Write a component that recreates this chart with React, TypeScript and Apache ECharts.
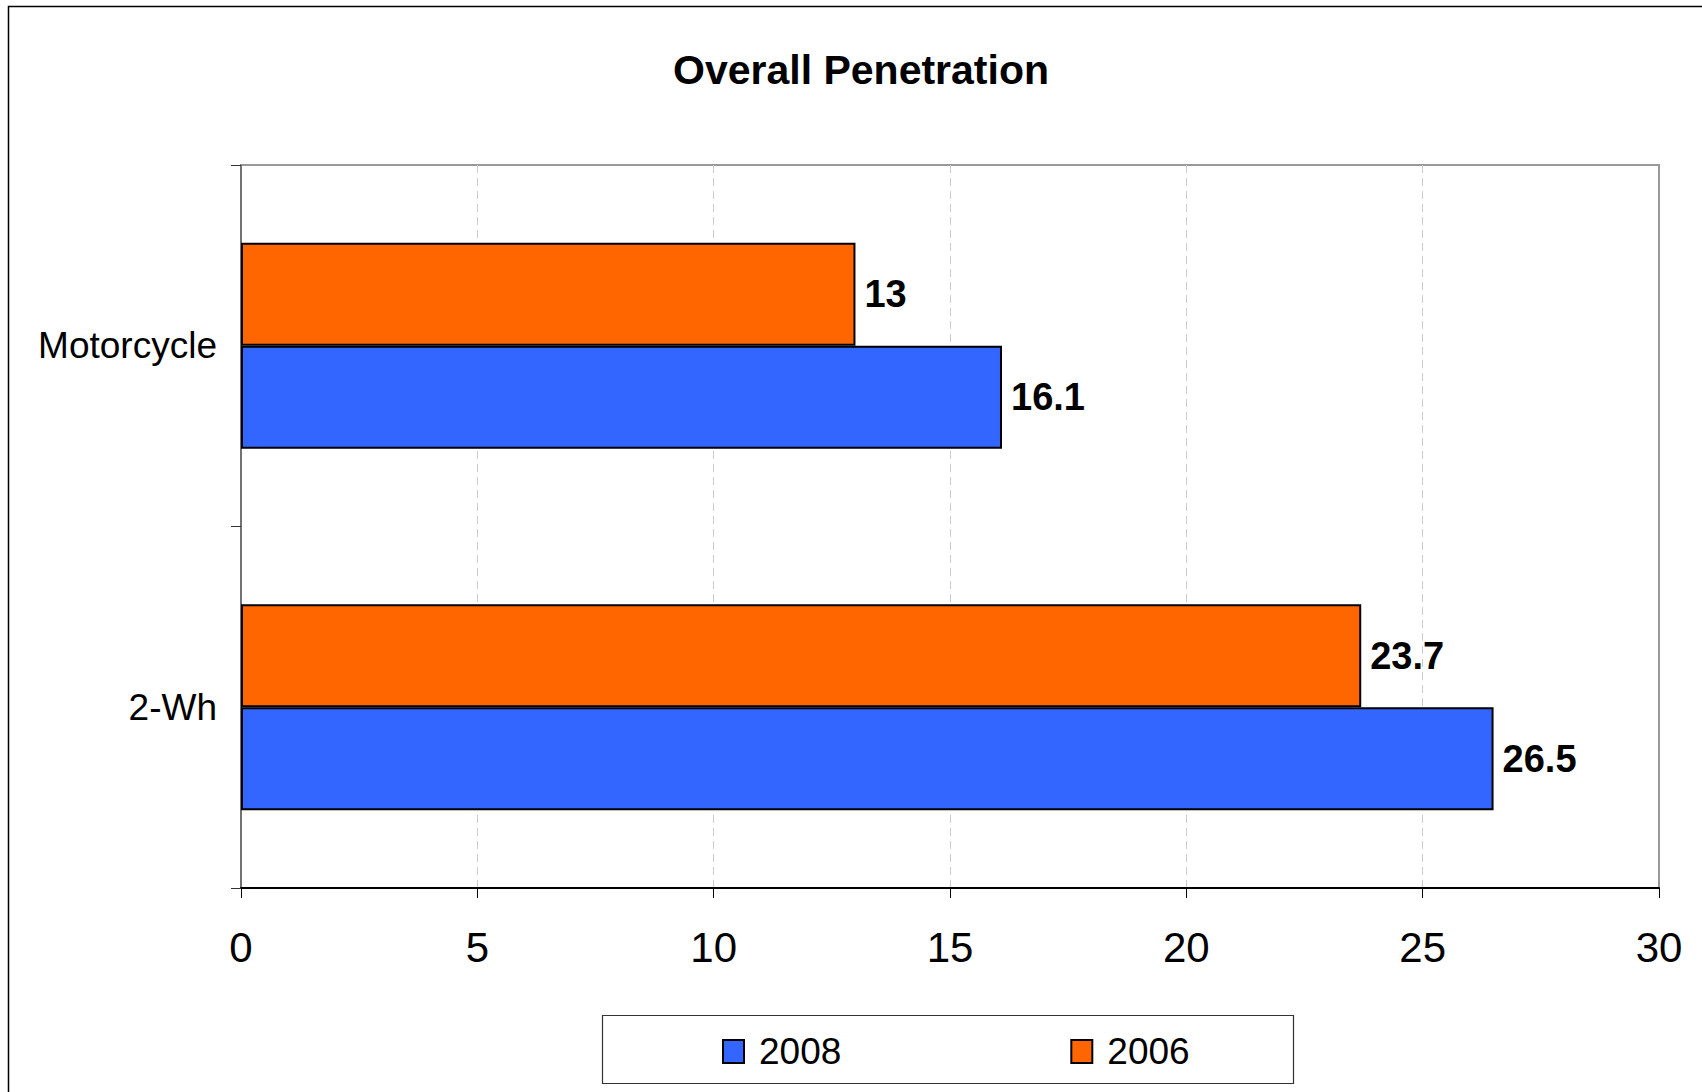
import React, { useEffect, useRef } from "react";
import * as echarts from "echarts";

const categories = ["2-Wh", "Motorcycle"];
const values2008 = [26.5, 16.1];
const values2006 = [23.7, 13];
const seriesNames = ["2008", "2006"];
const xMin = 0;
const xMax = 30;
const xStep = 5;
const titleText = "Overall Penetration";

export default function App() {
  const ref = useRef<HTMLDivElement>(null);
  useEffect(() => {
    if (!ref.current) return;
    const chart = echarts.init(ref.current, null, { renderer: "svg" });
    const barBorder = { borderColor: "#000", borderWidth: 2 };
    const labelStyle = {
      show: true,
      position: "right",
      distance: 9,
      color: "#000",
      fontFamily: "'Liberation Sans', Arial, sans-serif",
      fontWeight: "bold",
      fontSize: 38,
    };
    chart.setOption({
      animation: false,
      backgroundColor: "#fff",
      title: {
        text: titleText,
        left: 856,
        top: 44,
        textAlign: "center",
        textStyle: {
          fontFamily: "'Liberation Sans', Arial, sans-serif",
          fontWeight: "bold",
          fontSize: 41,
          color: "#000",
        },
      },
      graphic: [
        {
          type: "rect",
          shape: { x: 8.5, y: 6.5, width: 1800, height: 1200 },
          style: { fill: "none", stroke: "#000", lineWidth: 1.5 },
          silent: true,
          z: -10,
        },
        {
          type: "rect",
          shape: { x: 602.5, y: 1015.5, width: 691, height: 68 },
          style: { fill: "#fff", stroke: "#333", lineWidth: 1.2 },
          silent: true,
          z: -5,
        },
      ],
      legend: {
        data: seriesNames,
        left: 717,
        top: 1028,
        icon: "rect",
        itemWidth: 21,
        itemHeight: 23,
        itemGap: 229,
        textStyle: {
          fontFamily: "'Liberation Sans', Arial, sans-serif",
          fontSize: 37,
          color: "#000",
          padding: [0, 0, 0, 10],
        },
      },
      grid: {
        left: 241,
        right: 43,
        top: 165,
        bottom: 204,
        show: true,
        borderColor: "#999",
        borderWidth: 2,
        backgroundColor: "#fff",
      },
      xAxis: {
        type: "value",
        min: xMin,
        max: xMax,
        interval: xStep,
        axisLine: { show: true, lineStyle: { color: "#000", width: 2 } },
        axisTick: { show: true, length: 10, lineStyle: { color: "#000", width: 1 } },
        axisLabel: {
          margin: 38,
          fontFamily: "'Liberation Sans', Arial, sans-serif",
          fontSize: 42,
          lineHeight: 42,
          color: "#000",
        },
        splitLine: {
          show: true,
          showMinLine: false,
          showMaxLine: false,
          lineStyle: { color: "#ccc", width: 1, type: [8, 5] },
        },
      },
      yAxis: {
        type: "category",
        data: categories,
        axisLine: { show: true, lineStyle: { color: "#666", width: 1.5 } },
        axisTick: { show: true, length: 10, lineStyle: { color: "#333", width: 1 } },
        axisLabel: {
          margin: 24,
          fontFamily: "'Liberation Sans', Arial, sans-serif",
          fontSize: 37,
          color: "#000",
        },
        splitLine: { show: false },
      },
      series: [
        {
          name: seriesNames[1],
          type: "bar",
          data: values2006,
          barWidth: 103,
          barGap: "0%",
          itemStyle: { color: "#FF6600", ...barBorder },
          label: labelStyle,
        },
        {
          name: seriesNames[0],
          type: "bar",
          data: values2008,
          barWidth: 103,
          barGap: "0%",
          itemStyle: { color: "#3366FF", ...barBorder },
          label: labelStyle,
        },
      ],
    });
    return () => chart.dispose();
  }, []);
  return (
    <div
      ref={ref}
      style={{ position: "fixed", left: 0, top: 0, width: 1702, height: 1092 }}
    />
  );
}
